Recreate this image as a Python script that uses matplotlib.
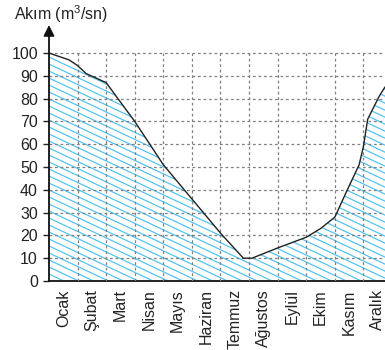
import matplotlib
matplotlib.use("Agg")
import matplotlib.pyplot as plt
import numpy as np
from matplotlib.patches import Polygon
from matplotlib.collections import LineCollection

plt.rcParams['font.family'] = ['Liberation Sans', 'DejaVu Sans']
plt.rcParams['mathtext.fontset'] = 'custom'
plt.rcParams['mathtext.rm'] = 'Liberation Sans'
plt.rcParams['mathtext.it'] = 'Liberation Sans:italic'

# data (x in month units, 0 = start of Ocak)
months = ['Ocak', 'Şubat', 'Mart', 'Nisan', 'Mayıs', 'Haziran', 'Temmuz',
          'Ağustos', 'Eylül', 'Ekim', 'Kasım', 'Aralık']
flow_x = [0, 0.7, 1.0, 1.3, 2.0, 3.0, 4.0, 5.0, 6.0, 6.8, 7.1, 8.0, 9.0,
          9.5, 10.0, 10.4, 10.85, 11.0, 11.15, 11.55, 11.75, 12.0]
flow_y = [100, 97, 94.5, 91, 87, 70, 51, 36, 21, 10, 10, 14.5, 19.2,
          23, 28, 39, 51, 59, 71, 81, 85, 88]
y_ticks = list(range(0, 101, 10))

fig = plt.figure(figsize=(3.85, 3.5), dpi=100)
ax = fig.add_axes([49/385, 69/350, 343/385, 256/350])
ax.set_xlim(0, 12)
ax.set_ylim(0, 112.3)

# area under curve, hatched with shallow blue lines (drawn by hand, mpl hatches are 45 deg)
verts = [(flow_x[0], 0)] + list(zip(flow_x, flow_y)) + [(flow_x[-1], 0)]
area = Polygon(verts, closed=True, facecolor='white', edgecolor='none', zorder=1)
ax.add_patch(area)
drop = 5.9      # units per month -> about 0.47 px/px on screen
step = 3.07     # vertical spacing, ~7 px
segs = [[(0, c), (12, c - drop * 12)] for c in np.arange(0, 200, step)]
hatch = LineCollection(segs, colors='#55c3ee', linewidths=0.9, zorder=2)
hatch.set_clip_path(area)
ax.add_collection(hatch)

# dashed grid
ax.hlines(y_ticks[1:], 0, 12, colors='#808080', linestyles=(0, (2.2, 2.2)), linewidth=0.9, zorder=3)
ax.vlines(range(1, 12), 0, 100, colors='#808080', linestyles=(0, (2.2, 2.2)), linewidth=0.9, zorder=3)

ax.plot(flow_x, flow_y, color='#222222', linewidth=1.0, zorder=4)

for s in ['top', 'right', 'left']:
    ax.spines[s].set_visible(False)
ax.spines['bottom'].set_linewidth(1.4)
ax.spines['bottom'].set_color('#222222')
ax.annotate('', xy=(0, 112.3), xytext=(0, 0), xycoords='data',
            arrowprops=dict(arrowstyle='-|>', color='#111111', lw=1.3,
                            mutation_scale=16, shrinkA=0, shrinkB=0),
            annotation_clip=False, zorder=5)

ax.set_yticks(y_ticks)
ax.set_yticklabels([str(v) for v in y_ticks], fontsize=11.5, color='#222222')
ax.tick_params(axis='y', length=4, width=1, color='#222222', pad=4)
ax.set_xticks(np.arange(12) + 0.5)
ax.set_xticklabels(months, rotation=90, fontsize=11.5, color='#222222')
ax.tick_params(axis='x', length=0, pad=6)

fig.text(14/385, 1 - 14/350, 'Akım (m$^3$/sn)', fontsize=11.5, color='#222222',
         va='center', ha='left')

fig.savefig('out.png', dpi=100)
